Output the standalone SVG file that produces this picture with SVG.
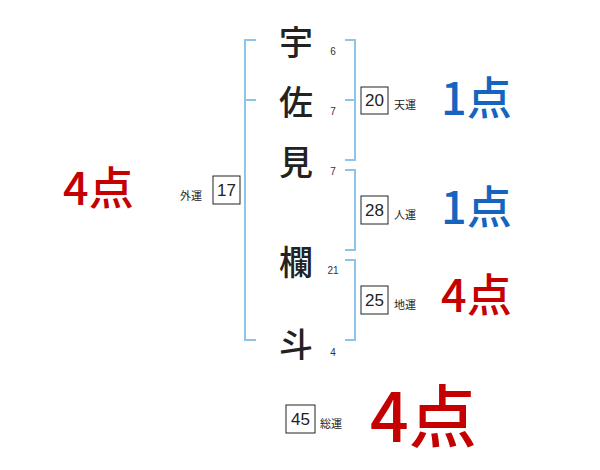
<svg xmlns="http://www.w3.org/2000/svg" width="600" height="470" viewBox="0 0 600 470">
<style>
.br{fill:none;stroke:#8fc3e8;stroke-width:2}
.name{font-family:"Noto Sans CJK JP","Noto Sans",sans-serif;font-size:34px;font-weight:500;fill:#222;text-anchor:middle;dominant-baseline:central}
.st{font-family:"Liberation Sans","DejaVu Sans",sans-serif;font-size:10px;fill:#333;text-anchor:middle;dominant-baseline:central}
.box{fill:#fff;stroke:#222;stroke-width:1}
.num{font-family:"Liberation Sans","DejaVu Sans",sans-serif;font-size:17px;fill:#222;text-anchor:middle;dominant-baseline:central}
.lab{font-family:"Noto Sans CJK JP","Noto Sans",sans-serif;font-size:11px;fill:#222;dominant-baseline:central}
.sc{font-family:"Noto Sans CJK JP","Noto Sans",sans-serif;font-weight:500;dominant-baseline:central}
.blue{fill:#1565c0}
.red{fill:#c40000}
</style>
<rect width="600" height="470" fill="#fff"/>
<g id="connectors">
<path class="br" d="M256,40 H245 V340 H256 M245,100 H256"/>
<path class="br" d="M345,40 H355 V160 H345 M345,100 H355"/>
<path class="br" d="M345,170 H355 V250 H345"/>
<path class="br" d="M345,260 H355 V340 H345"/>
</g>
<g id="char1"><text class="name" x="296" y="40">宇</text><text class="st" x="333" y="51">6</text></g>
<g id="char2"><text class="name" x="296" y="100">佐</text><text class="st" x="333" y="111">7</text></g>
<g id="char3"><text class="name" x="296" y="160">見</text><text class="st" x="333" y="171">7</text></g>
<g id="char4"><text class="name" x="296" y="260">欄</text><text class="st" x="333" y="270">21</text></g>
<g id="char5"><text class="name" x="296" y="342">斗</text><text class="st" x="333" y="352">4</text></g>
<g id="tenun"><rect class="box" x="361" y="87" width="27" height="27"/><text class="num" x="374.5" y="100.5">20</text><text class="lab" x="394" y="104">天運</text></g>
<g id="jinun"><rect class="box" x="361" y="196" width="27" height="28"/><text class="num" x="374.5" y="210">28</text><text class="lab" x="394" y="214">人運</text></g>
<g id="chiun"><rect class="box" x="361" y="286" width="27" height="28"/><text class="num" x="374.5" y="300">25</text><text class="lab" x="394" y="304">地運</text></g>
<g id="gaiun"><rect class="box" x="213" y="176" width="27" height="28"/><text class="num" x="226.5" y="190">17</text><text class="lab" x="180" y="195">外運</text></g>
<g id="souun"><rect class="box" x="286" y="405" width="29" height="28"/><text class="num" x="300.5" y="419">45</text><text class="lab" x="320" y="423">総運</text></g>
<g id="score-ten"><text class="sc blue" x="441" y="95" font-size="45">1点</text></g>
<g id="score-jin"><text class="sc blue" x="441" y="204" font-size="45">1点</text></g>
<g id="score-chi"><text class="sc red" x="441" y="292" font-size="45">4点</text></g>
<g id="score-gai"><text class="sc red" x="63" y="185" font-size="45">4点</text></g>
<g id="score-sou"><text class="sc red" x="370" y="412" font-size="68">4点</text></g>
</svg>
